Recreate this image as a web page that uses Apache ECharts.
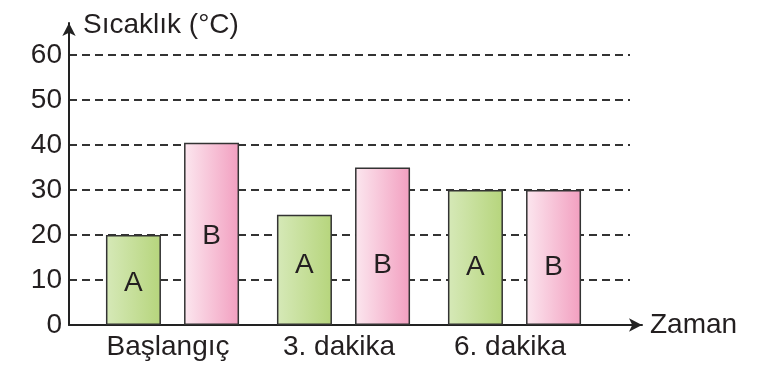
<!DOCTYPE html>
<html>
<head>
<meta charset="utf-8">
<script src="https://cdn.jsdelivr.net/npm/echarts@6/dist/echarts.min.js"></script>
<style>html,body{margin:0;padding:0;background:#fff;}#c{width:776px;height:379px;}</style>
</head>
<body>
<div id="c"></div>
<script>
var categories = ['Başlangıç', '3. dakika', '6. dakika'];
var seriesNames = ['A', 'B'];
var valuesA = [20, 24.5, 30];
var valuesB = [40.5, 35, 30];
var yTicks = [0, 10, 20, 30, 40, 50, 60];
var yTitle = 'Sıcaklık (°C)';
var xTitle = 'Zaman';

// label placement (height of label centre above the axis, px)
var labelLiftA = [42, 60, 58];
var labelLiftB = [89, 60, 58];

var FONT = '"Liberation Sans", Arial, Helvetica, sans-serif';
var TXT = '#231f20';

function withLabels(vals, lifts) {
  return vals.map(function (v, i) {
    return { value: v, label: { distance: lifts[i] - 14 } };
  });
}

var chart = echarts.init(document.getElementById('c'), null, { renderer: 'canvas' });
chart.setOption({
  animation: false,
  backgroundColor: '#fff',
  grid: [
    { left: 69, right: 146, top: 55, bottom: 54 },   // split lines & tick labels
    { left: 87, right: 176, top: 55, bottom: 54 },   // bars
    { left: 69, right: 134, top: 23, bottom: 54 }    // axis lines with arrows
  ],
  xAxis: [
    { gridIndex: 0, type: 'value', show: false },
    {
      gridIndex: 1, type: 'category', data: categories,
      axisLine: { show: false }, axisTick: { show: false },
      axisLabel: { margin: 8, fontSize: 28, color: TXT, fontFamily: FONT, padding: [0, 9, 0, 0] }
    },
    {
      gridIndex: 2, type: 'value', min: 0, max: 1,
      axisLabel: { show: false }, axisTick: { show: false }, splitLine: { show: false },
      axisLine: { show: true, symbol: ['none', 'arrow'], symbolSize: [10, 13],
        lineStyle: { color: '#222', width: 2 } },
      name: xTitle, nameLocation: 'end', nameGap: 8,
      nameTextStyle: { fontSize: 28, color: TXT, fontFamily: FONT, verticalAlign: 'middle' }
    }
  ],
  yAxis: [
    {
      gridIndex: 0, type: 'value', min: yTicks[0], max: yTicks[yTicks.length - 1], interval: 10,
      axisLine: { show: false }, axisTick: { show: false },
      axisLabel: { margin: 7, fontSize: 28, color: TXT, fontFamily: FONT },
      splitLine: { show: true, lineStyle: { color: '#333', width: 2, type: [8, 5] } }
    },
    {
      gridIndex: 1, type: 'value', min: yTicks[0], max: yTicks[yTicks.length - 1], interval: 10,
      show: false
    },
    {
      gridIndex: 2, type: 'value', min: 0, max: 1,
      axisLabel: { show: false }, axisTick: { show: false }, splitLine: { show: false },
      axisLine: { show: true, symbol: ['none', 'arrow'], symbolSize: [10, 13],
        lineStyle: { color: '#222', width: 2 } },
      name: yTitle, nameLocation: 'end', nameGap: -2,
      nameTextStyle: { fontSize: 28, color: TXT, fontFamily: FONT, align: 'left',
        verticalAlign: 'middle', padding: [0, 0, 0, 14] }
    }
  ],
  series: [
    {
      name: seriesNames[0], type: 'bar', xAxisIndex: 1, yAxisIndex: 1,
      data: withLabels(valuesA, labelLiftA),
      barWidth: 55, barGap: '42%',
      itemStyle: {
        borderColor: '#333', borderWidth: 1.5,
        color: new echarts.graphic.LinearGradient(0, 0, 1, 0, [
          { offset: 0, color: '#d6e9b8' }, { offset: 1, color: '#b6d57c' }
        ])
      },
      label: { show: true, position: 'insideBottom', formatter: '{a}', fontSize: 28,
        lineHeight: 28, color: TXT, fontFamily: FONT }
    },
    {
      name: seriesNames[1], type: 'bar', xAxisIndex: 1, yAxisIndex: 1,
      data: withLabels(valuesB, labelLiftB),
      barWidth: 55, barGap: '42%',
      itemStyle: {
        borderColor: '#333', borderWidth: 1.5,
        color: new echarts.graphic.LinearGradient(0, 0, 1, 0, [
          { offset: 0, color: '#fce7ef' }, { offset: 1, color: '#f29fc0' }
        ])
      },
      label: { show: true, position: 'insideBottom', formatter: '{a}', fontSize: 28,
        lineHeight: 28, color: TXT, fontFamily: FONT }
    }
  ]
});
</script>
</body>
</html>
